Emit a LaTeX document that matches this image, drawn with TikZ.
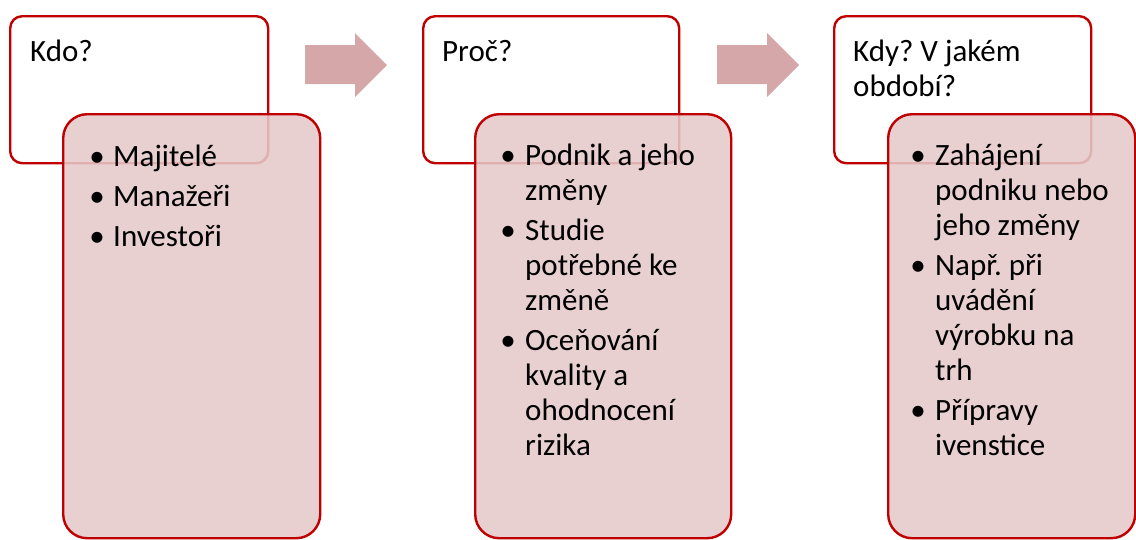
\documentclass[tikz,border=0pt]{standalone}
\usepackage{fontspec}
\setmainfont{Carlito}
\frenchspacing
\definecolor{boxred}{RGB}{192,0,0}
\definecolor{boxpink}{RGB}{229,201,202}
\definecolor{arrowpink}{RGB}{214,167,168}
\newcommand{\ml}[1]{\begin{tabular}[t]{@{}l@{}}#1\end{tabular}}
\begin{document}
\frenchspacing
\begin{tikzpicture}[x=1pt,y=-1pt,
  topbox/.style={draw=boxred, line width=2.4pt, fill=white, rounded corners=12pt,
    inner sep=0pt, minimum height=147pt, anchor=north west},
  lowbox/.style={draw=boxred, line width=2.4pt, fill=boxpink, fill opacity=0.88,
    rounded corners=24pt, inner sep=0pt, minimum height=424pt, anchor=north west},
  txt/.style={anchor=base west, inner sep=0pt, font=\fontsize{31}{35}\selectfont, text=black},
  bul/.style={anchor=base, inner sep=0pt, font=\fontsize{31}{35}\selectfont, text=black},
  arr/.style={fill=arrowpink, draw=none}]
\useasboundingbox (0,0) rectangle (1136,539);
% arrows
\fill[arr] (305,45) -- (355,45) -- (355,33) -- (387,65) -- (355,97) -- (355,84) -- (305,84) -- cycle;
\fill[arr] (717,45) -- (767,45) -- (767,33) -- (799,65) -- (767,97) -- (767,84) -- (717,84) -- cycle;
% group 1
\node[topbox, minimum width=258pt] (t1) at (9,15) {};
\node[txt] (t1text) at (30,61) {Kdo?};
\node[lowbox, minimum width=257pt] (l1) at (62,113) {};
\node[bul] (b11) at (97,166) {•};
\node[txt] (i11) at (113,166) {\ml{Majitelé}};
\node[bul] (b12) at (97,206) {•};
\node[txt] (i12) at (113,206) {\ml{Manažeři}};
\node[bul] (b13) at (97,246) {•};
\node[txt] (i13) at (113,246) {\ml{Investoři}};
% group 2
\node[topbox, minimum width=256pt] (t2) at (422,15) {};
\node[txt] (t2text) at (442,61) {Proč?};
\node[lowbox, minimum width=256pt] (l2) at (474,113) {};
\node[bul] (b21) at (508,165) {•};
\node[txt] (i21) at (525,165) {\ml{Podnik a jeho\\změny}};
\node[bul] (b22) at (508,240) {•};
\node[txt] (i22) at (525,240) {\ml{Studie\\potřebné ke\\změně}};
\node[bul] (b23) at (508,350) {•};
\node[txt] (i23) at (525,350) {\ml{Oceňování\\kvality a\\ohodnocení\\rizika}};
% group 3
\node[topbox, minimum width=257pt] (t3) at (833,15) {};
\node[txt] (t3text) at (853,61) {\ml{Kdy? V jakém\\období?}};
\node[lowbox, minimum width=247pt] (l3) at (887,113) {};
\node[bul] (b31) at (918,165) {•};
\node[txt] (i31) at (935,165) {\ml{Zahájení\\podniku nebo\\jeho změny}};
\node[bul] (b32) at (918,275) {•};
\node[txt] (i32) at (935,275) {\ml{Např. při\\uvádění\\výrobku na\\trh}};
\node[bul] (b33) at (918,420) {•};
\node[txt] (i33) at (935,420) {\ml{Přípravy\\ivenstice}};
\end{tikzpicture}
\end{document}
